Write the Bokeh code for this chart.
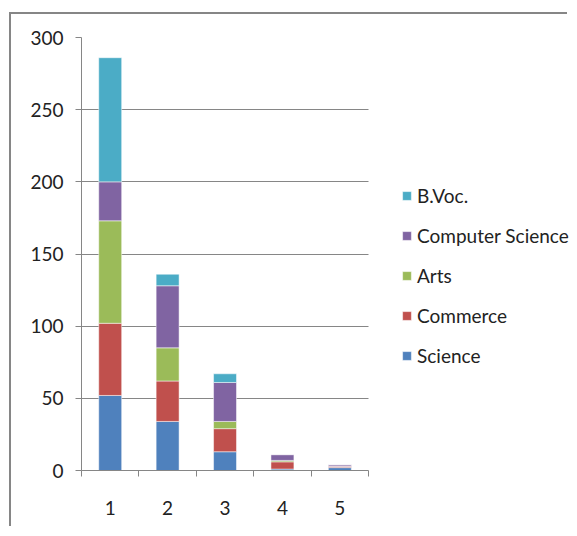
from bokeh.plotting import figure
from bokeh.models import Range1d, FixedTicker, Legend, LegendItem, ColumnDataSource
from bokeh.embed import file_html
from bokeh.resources import INLINE

categories = ["1", "2", "3", "4", "5"]
science = [52, 34, 13, 1, 2]
commerce = [50, 28, 16, 5, 1]
arts = [71, 23, 5, 1, 0]
computer_science = [27, 43, 27, 4, 1]
bvoc = [86, 8, 6, 0, 0]
series_names = ["Science", "Commerce", "Arts", "Computer Science", "B.Voc."]
colors = ["#4F81BD", "#C0504D", "#9BBB59", "#8064A2", "#4BACC6"]
y_ticks = [0, 50, 100, 150, 200, 250, 300]

FONT = "Lato"
GRAY = "#868686"
FS = "19px"

xs = [float(c) for c in categories]
x_lo, x_hi = xs[0] - 0.5, xs[-1] + 0.5
src = ColumnDataSource(dict(x=xs, Science=science, Commerce=commerce, Arts=arts,
                            **{"Computer Science": computer_science, "B.Voc.": bvoc}))

# plot frame spans the legend area too; axis and grid are bounded to the category span
p = figure(width=558, height=514, output_backend="svg", toolbar_location=None,
           x_range=Range1d(x_lo, 9.0), y_range=Range1d(0, 300),
           min_border_left=70, min_border_right=0, min_border_top=23, min_border_bottom=58)
p.outline_line_color = None
p.background_fill_color = "white"
p.border_fill_color = "white"
p.styles = {"margin-left": "9px", "margin-top": "12px",
            "border-left": "2px solid #868686", "border-top": "2px solid #868686"}

renderers = p.vbar_stack(series_names, x="x", width=0.4, source=src, color=colors,
                         line_color="white", line_width=0.5)

# axes
p.yaxis.ticker = FixedTicker(ticks=y_ticks)
p.yaxis.axis_line_color = GRAY
p.yaxis.major_tick_line_color = GRAY
p.yaxis.major_tick_out = 6
p.yaxis.major_tick_in = 0
p.yaxis.minor_tick_line_color = None
p.yaxis.major_label_text_font = FONT
p.yaxis.major_label_text_font_size = FS
p.yaxis.major_label_text_color = "#222222"
p.yaxis.major_label_standoff = 12

p.xaxis.bounds = (x_lo, x_hi)
p.xaxis.ticker = FixedTicker(ticks=xs, minor_ticks=[x - 0.5 for x in xs] + [x_hi])
p.xaxis.major_label_overrides = {x: c for x, c in zip(xs, categories)}
p.xaxis.axis_line_color = GRAY
p.xaxis.major_tick_line_color = None
p.xaxis.major_tick_out = 0
p.xaxis.major_tick_in = 0
p.xaxis.minor_tick_line_color = GRAY
p.xaxis.minor_tick_out = 6
p.xaxis.minor_tick_in = 0
p.xaxis.major_label_text_font = FONT
p.xaxis.major_label_text_font_size = FS
p.xaxis.major_label_text_color = "#222222"
p.xaxis.major_label_standoff = 24

p.xgrid.grid_line_color = None
p.ygrid.ticker = FixedTicker(ticks=y_ticks)
p.ygrid.cross_bounds = (x_lo, x_hi)
p.ygrid.grid_line_color = GRAY
p.ygrid.grid_line_width = 1

# legend (reverse order, as in the reference)
items = [LegendItem(label=name, renderers=[r]) for name, r in zip(series_names, renderers)][::-1]
legend = Legend(items=items, location=(320, 103), orientation="vertical",
                glyph_width=11, glyph_height=11, label_height=20, spacing=17,
                label_standoff=5, padding=0, margin=0,
                label_text_font=FONT, label_text_font_size=FS, label_text_color="#222222",
                border_line_color=None, background_fill_alpha=0)
p.add_layout(legend, "center")

open("out.html", "w").write(file_html(p, INLINE))
